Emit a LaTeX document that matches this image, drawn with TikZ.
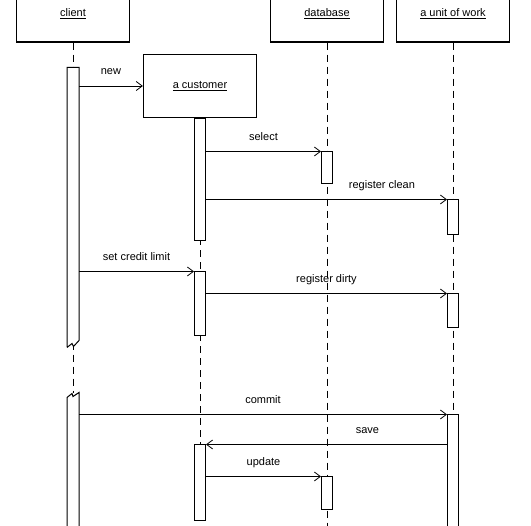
\documentclass[tikz,border=0pt]{standalone}
\usepackage{fontspec}
\setmainfont{Liberation Sans}
\usetikzlibrary{arrows.meta}
\tikzset{
  uobj/.style={draw, line width=1.2pt, minimum width=113pt, inner sep=0pt, font=\fontsize{11}{13}\selectfont},
  uact/.style={draw, line width=1pt, fill=white, minimum width=11pt, inner sep=0pt},
  ulife/.style={line width=1pt, dash pattern=on 7pt off 5pt},
  umsg/.style={line width=0.8pt, -{Straight Barb[length=6pt,width=9pt]}},
  ulbl/.style={font=\fontsize{11}{13}\selectfont, inner sep=1pt, text height=7.5pt, text depth=2pt}
}

\begin{document}
\begin{tikzpicture}[x=1pt, y=-1pt]
    \clip (0,0) rectangle (531,526);
    \fill[white] (0,0) rectangle (531,526);
    \coordinate (bottom) at (0,540);
    % objects
    \node[uobj, minimum height=56pt] (client) at (73,14) {\underline{client}};
    \node[uobj, minimum height=56pt] (database) at (327,14) {\underline{database}};
    \node[uobj, minimum height=56pt] (unit) at (453,14) {\underline{a unit of work}};
    \node[uobj, minimum height=63pt] (customer) at (200,86) {\underline{a customer}};
    % lifelines
    \draw[ulife] (client.south) -- (client.south |- bottom);
    \draw[ulife] (customer.south) -- (customer.south |- bottom);
    \draw[ulife] (database.south) -- (database.south |- bottom);
    \draw[ulife] (unit.south) -- (unit.south |- bottom);
    % client activations, broken
    \node[uact, draw=none, minimum height=279pt] (cliA1) at (73,207.5) {};
    \draw[line width=1pt] (cliA1.south west) -- (cliA1.north west) -- (cliA1.north east)
      -- ([yshift=7pt]cliA1.south east) -- ++(-5.5,6) -- ++(-1.5,-3) -- (cliA1.south west);
    \node[uact, draw=none, minimum height=140pt] (cliA2) at (73,463) {};
    \draw[line width=1pt] (cliA2.south west) -- ([yshift=-5pt]cliA2.north west) -- ++(5,-4)
      -- ++(1,3) -- (cliA2.north east) -- (cliA2.south east);
    % other activations
    \node[uact, minimum height=122pt] (custA1) at (200,180) {};
    \node[uact, minimum height=64pt] (custA2) at (200,304) {};
    \node[uact, minimum height=76pt] (custA3) at (200,483) {};
    \node[uact, minimum height=32pt] (dbA1) at (327,168) {};
    \node[uact, minimum height=33pt] (dbA2) at (327,493.5) {};
    \node[uact, minimum height=35pt] (unitA1) at (453,217.5) {};
    \node[uact, minimum height=34pt] (unitA2) at (453,311) {};
    \node[uact, minimum height=125pt] (unitA3) at (453,477.5) {};
    % messages
    \draw[umsg] (cliA1.east |- customer.west) -- node[ulbl, above=8pt] {new} (customer.west);
    \draw[umsg] (custA1.east |- dbA1.north) -- node[ulbl, above=8pt] {select} (dbA1.north west);
    \draw[umsg] (custA1.east |- unitA1.north) -- node[ulbl, above=8pt, pos=0.73] {register clean} (unitA1.north west);
    \draw[umsg] (cliA1.east |- custA2.north) -- node[ulbl, above=8pt] {set credit limit} (custA2.north west);
    \draw[umsg] (custA2.east |- unitA2.north) -- node[ulbl, above=8pt] {register dirty} (unitA2.north west);
    \draw[umsg] (cliA2.east |- unitA3.north) -- node[ulbl, above=8pt] {commit} (unitA3.north west);
    \draw[umsg] (unitA3.west |- custA3.north) -- node[ulbl, above=8pt, pos=0.33] {save} (custA3.north east);
    \draw[umsg] (custA3.east |- dbA2.north) -- node[ulbl, above=8pt] {update} (dbA2.north west);
\end{tikzpicture}
\end{document}
